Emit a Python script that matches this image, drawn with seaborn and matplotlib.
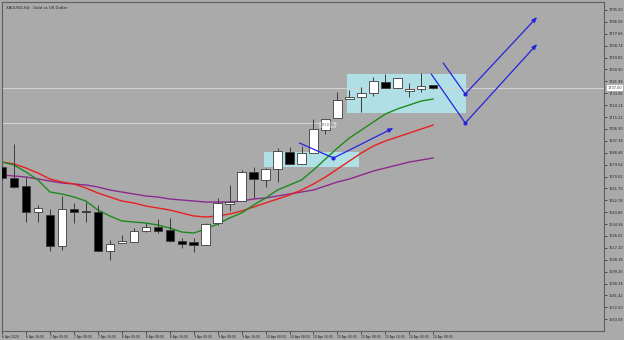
import matplotlib
matplotlib.use("Agg")
import matplotlib.pyplot as plt
import matplotlib.transforms as mtransforms
import seaborn as sns
import numpy as np
import pandas as pd
from matplotlib.patches import Rectangle

# ---------------- data ----------------
title = "XAUUSD,H4:  Gold vs US Dollar"

opens = [1677.75, 1669.5, 1663.5, 1644.0, 1641.75, 1618.5, 1646.25, 1644.75, 1644.0, 1614.75,
         1620.75, 1621.5, 1629.75, 1632.75, 1630.5, 1622.25, 1621.5, 1619.25, 1635.75, 1650.0,
         1652.25, 1674.0, 1668.0, 1676.25, 1689.0, 1680.0, 1688.25, 1705.5, 1714.5, 1728.75,
         1730.25, 1733.25, 1741.5, 1737.0, 1734.75, 1736.25, 1739.25]
highs = [1679.25, 1695.0, 1670.25, 1649.25, 1646.25, 1656.0, 1650.75, 1651.5, 1649.25, 1623.0,
         1626.75, 1632.0, 1635.75, 1638.75, 1639.5, 1624.5, 1624.5, 1635.75, 1654.5, 1664.25,
         1675.5, 1677.75, 1677.0, 1692.0, 1692.75, 1693.5, 1713.75, 1713.75, 1734.0, 1735.5,
         1737.75, 1745.25, 1747.5, 1744.5, 1740.75, 1748.25, 1739.25]
lows = [1668.0, 1662.0, 1636.5, 1636.5, 1614.75, 1615.5, 1635.75, 1636.5, 1614.75, 1608.0,
        1620.75, 1621.5, 1629.0, 1628.25, 1621.5, 1617.0, 1614.0, 1619.25, 1634.25, 1644.75,
        1652.25, 1654.5, 1662.75, 1666.5, 1680.0, 1680.0, 1688.25, 1702.5, 1714.5, 1728.75,
        1719.0, 1731.0, 1737.0, 1737.0, 1730.25, 1734.0, 1736.25]
closes = [1669.5, 1662.75, 1644.0, 1647.0, 1618.5, 1646.25, 1644.0, 1644.0, 1614.75, 1620.0,
          1622.25, 1629.75, 1632.75, 1629.75, 1622.25, 1620.0, 1619.25, 1635.0, 1650.75, 1651.5,
          1674.0, 1668.75, 1676.25, 1689.75, 1680.0, 1688.25, 1706.25, 1713.75, 1728.0, 1730.25,
          1733.25, 1742.25, 1737.0, 1744.5, 1736.25, 1738.5, 1737.0]

ma_fast = [1681.5, 1679.25, 1674.0, 1668.0, 1659.0, 1657.5, 1655.25, 1652.25, 1645.5, 1641.0,
           1637.25, 1636.5, 1635.75, 1634.25, 1632.0, 1629.0, 1628.25, 1631.25, 1635.0, 1639.5,
           1643.25, 1649.25, 1654.5, 1660.5, 1664.25, 1668.0, 1675.5, 1683.75, 1692.0, 1699.5,
           1705.5, 1711.5, 1717.5, 1721.25, 1724.25, 1727.25, 1728.75]
ma_mid = [1681.5, 1680.0, 1677.0, 1673.25, 1668.75, 1666.5, 1665.0, 1662.0, 1658.25, 1655.25,
          1652.25, 1650.75, 1648.5, 1647.0, 1645.5, 1643.25, 1641.0, 1640.25, 1641.0, 1642.5,
          1644.75, 1647.75, 1650.75, 1653.75, 1656.75, 1660.5, 1665.0, 1670.25, 1676.25, 1682.25,
          1688.25, 1693.5, 1697.25, 1700.25, 1703.25, 1706.25, 1709.25]
ma_slow = [1671.75, 1671.0, 1670.25, 1668.75, 1667.25, 1665.75, 1665.0, 1664.25, 1662.75, 1660.5,
           1659.0, 1657.5, 1656.0, 1655.25, 1653.75, 1653.0, 1652.25, 1651.5, 1651.5, 1651.5,
           1652.25, 1653.75, 1654.5, 1656.0, 1657.5, 1659.0, 1660.5, 1663.5, 1666.5, 1668.75,
           1671.75, 1674.75, 1677.0, 1679.25, 1681.5, 1683.0, 1684.5]

x_labels = ["6 Apr 2020", "6 Apr 16:00", "7 Apr 00:00", "7 Apr 08:00", "7 Apr 16:00",
            "8 Apr 00:00", "8 Apr 08:00", "8 Apr 16:00", "9 Apr 00:00", "9 Apr 08:00",
            "9 Apr 16:00", "10 Apr 00:00", "10 Apr 08:00", "10 Apr 16:00", "13 Apr 00:00",
            "13 Apr 08:00", "13 Apr 16:00", "14 Apr 00:00", "14 Apr 08:00"]
y_ticks = [1795.50, 1786.58, 1777.66, 1768.74, 1759.82, 1750.90, 1741.98, 1733.06, 1724.14,
           1715.22, 1706.30, 1697.38, 1688.46, 1679.54, 1670.62, 1661.70, 1652.78, 1643.86,
           1634.94, 1626.02, 1617.10, 1608.18, 1599.26, 1590.34, 1581.42, 1572.50, 1563.58]

current_price = 1737.00
hline_price = 1710.75
hline_end = 27.9

zone_x0 = [21.83, 28.83]
zone_x1 = [29.83, 38.75]
zone_lo = [1677.75, 1718.25]
zone_hi = [1689.0, 1747.5]

arrow_x = [[24.83, 27.67, 32.67], [36.83, 38.67, 44.67], [35.83, 38.67, 44.67]]
arrow_y = [[1695.75, 1684.5, 1707.0], [1755.75, 1732.5, 1790.25], [1747.5, 1710.75, 1770.0]]

# ---------------- style ----------------
BG = "#AAAAAA"
sns.set_theme(style="white", rc={"axes.facecolor": BG, "figure.facecolor": BG})
plt.rcParams["font.family"] = ["DejaVu Sans"]

W, H = 624, 340
fig = plt.figure(figsize=(W / 100, H / 100), dpi=100)
ax = fig.add_axes([2 / W, 9 / H, 602 / W, 329 / H])
ax.set_facecolor(BG)

idx = np.arange(len(opens))
df = pd.DataFrame({"i": idx, "open": opens, "high": highs, "low": lows, "close": closes,
                   "fast": ma_fast, "mid": ma_mid, "slow": ma_slow})

# zones
for x0, x1, lo, hi in zip(zone_x0, zone_x1, zone_lo, zone_hi):
    ax.add_patch(Rectangle((x0, lo), x1 - x0, hi - lo, facecolor="#B0E0E6",
                           edgecolor="none", zorder=1))

# horizontal lines
ax.axhline(current_price, color="#D2D2D2", lw=0.8, zorder=1.5)
ax.plot([0, hline_end], [hline_price, hline_price], color="#D2D2D2", lw=0.8, zorder=1.5)

# moving averages via seaborn
sns.lineplot(data=df, x="i", y="slow", color="#8E2A8E", lw=1.0, ax=ax, zorder=2)
sns.lineplot(data=df, x="i", y="mid", color="#E8201E", lw=1.0, ax=ax, zorder=2)
sns.lineplot(data=df, x="i", y="fast", color="#1E8A1E", lw=1.0, ax=ax, zorder=2)

# candles
up = df["close"] >= df["open"]
ax.vlines(df["i"], df["low"], df["high"], color="#3A3A3A", lw=0.7, zorder=3)
body_lo = np.minimum(df["open"], df["close"])
body_h = np.maximum(np.abs(df["close"] - df["open"]), 0.6)
ax.bar(df["i"], body_h, bottom=body_lo, width=0.7,
       color=np.where(up, "white", "black"), edgecolor="#3A3A3A", linewidth=0.6, zorder=4)

# arrows
BLUE = "#2424E0"
for xs, ys in zip(arrow_x, arrow_y):
    ax.plot(xs[:2], ys[:2], color=BLUE, lw=0.9, zorder=5)
    ax.plot([xs[1]], [ys[1]], marker="o", ms=2, color=BLUE, zorder=5)
    ax.annotate("", xy=(xs[2], ys[2]), xytext=(xs[1], ys[1]),
                arrowprops=dict(arrowstyle="-|>,head_length=0.25,head_width=0.1",
                                color=BLUE, lw=0.9, shrinkA=0, shrinkB=0), zorder=5)

# axis limits
ax.set_xlim(1 / 12, 603 / 12)
ax.set_ylim(1554.75, 1801.5)
ax.set_xlabel("")
ax.set_ylabel("")

# ticks
ax.yaxis.tick_right()
ax.set_yticks(y_ticks)
ax.set_yticklabels([f"{v:.2f}" for v in y_ticks], fontsize=2.5, color="#202020")
ax.set_xticks(np.arange(0, len(opens), 2))
ax.set_xticklabels(x_labels, fontsize=2.2, color="#202020", ha="left")
ax.tick_params(axis="y", which="major", right=True, left=False, direction="out",
               length=2, width=0.5, pad=1, colors="#202020")
ax.tick_params(axis="x", which="major", bottom=True, direction="out",
               length=2, width=0.5, pad=0.8, colors="#202020")
for lab in ax.get_yticklabels():
    lab.set_horizontalalignment("left")

for s in ax.spines.values():
    s.set_visible(True)
    s.set_color("#606060")
    s.set_linewidth(0.8)

# labels of price lines
trans = mtransforms.blended_transform_factory(ax.transAxes, ax.transData)
ax.text(1.006, current_price, f"{current_price:.2f}", transform=trans, fontsize=2.5,
        va="center", ha="left", color="#303030",
        bbox=dict(boxstyle="square,pad=0.25", facecolor="white", edgecolor="none"),
        zorder=6, clip_on=False)
ax.text(hline_end - 0.1, hline_price - 1.5, f"{hline_price:.2f}", fontsize=2.5, va="center",
        ha="right", color="#606060",
        bbox=dict(boxstyle="square,pad=0.3", facecolor="white", alpha=0.35, edgecolor="none"),
        zorder=6)

# title
ax.text(0.006, 0.988, title, transform=ax.transAxes, fontsize=2.8, va="top", ha="left",
        color="#202020")

fig.savefig("out.png", dpi=100, facecolor=BG)
